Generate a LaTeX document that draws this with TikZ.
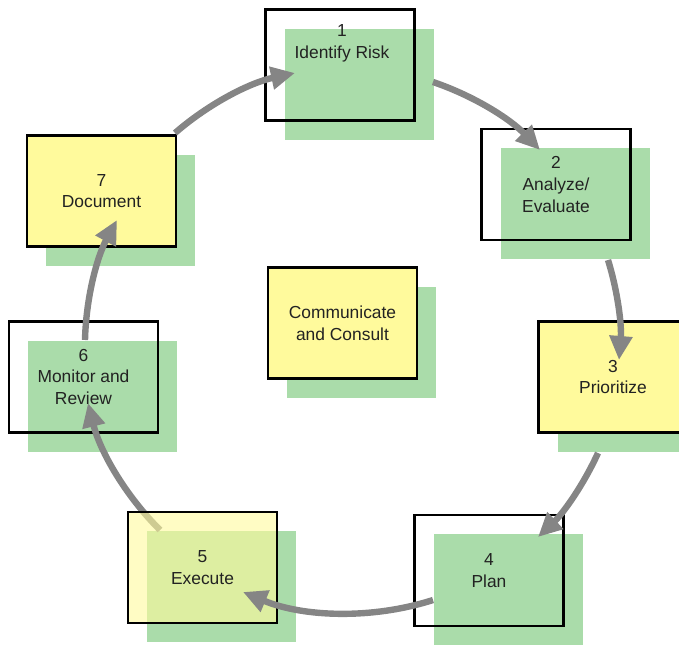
\documentclass[tikz,border=0pt]{standalone}
\usepackage{fontspec}
\setmainfont{Liberation Sans}
\usetikzlibrary{arrows.meta}
\definecolor{shgreen}{HTML}{AADCAA}
\definecolor{boxyellow}{HTML}{FFFA9C}
\definecolor{arrgray}{HTML}{858585}
\definecolor{txtcol}{HTML}{222222}
\tikzset{
  shadowbox/.style={fill=shgreen, draw=none, minimum width=74.5pt, minimum height=55.5pt, inner sep=0pt, xshift=9.5pt, yshift=-9.5pt},
  labeltext/.style={align=center, font=\fontsize{8.7}{10.8}\selectfont, text=txtcol, inner sep=0pt},
  framebox/.style={labeltext, draw=black, line width=1.1pt, minimum width=74.5pt, minimum height=55.5pt},
  yellowbox/.style={framebox, fill=boxyellow},
  flow/.style={draw=arrgray, line width=3.2pt, -{Triangle[length=12pt,width=11pt]}, looseness=0.87},
}
\begin{document}
\begin{tikzpicture}[x=0.5pt,y=0.5pt]
\useasboundingbox (0,0) rectangle (679,645);
\clip (0,0) rectangle (679,645);
% box centres
\coordinate (p1) at (340,580);
\coordinate (p2) at (556,460.5);
\coordinate (p3) at (613,268);
\coordinate (p4) at (489,74.5);
\coordinate (p5) at (202.5,77.5);
\coordinate (p6) at (83.5,268);
\coordinate (p7) at (101.5,454);
\coordinate (pc) at (342.5,322);
% shadows
\node[shadowbox] (s1) at (p1) {};
\node[shadowbox] (s2) at (p2) {};
\node[shadowbox] (s3) at (p3) {};
\node[shadowbox] (s4) at (p4) {};
\node[shadowbox] (s5) at (p5) {};
\node[shadowbox] (s6) at (p6) {};
\node[shadowbox] (s7) at (p7) {};
\node[shadowbox] (sc) at (pc) {};
% boxes
\node[framebox] (b1) at (p1) {};
\node[labeltext] (t1) at (342,601.5) {1\\Identify Risk};
\node[framebox] (b2) at (p2) {2\\Analyze/\\Evaluate};
\node[yellowbox] (b3) at (p3) {3\\Prioritize};
\node[framebox] (b4) at (p4) {4\\Plan};
\node[framebox] (b6) at (p6) {6\\Monitor and\\Review};
\node[yellowbox] (b7) at (p7) {7\\Document};
\node[yellowbox] (bc) at (pc) {Communicate\\and Consult};
% connector endpoints
\coordinate (a71s) at (175,512);
\coordinate (a71e) at (295,572);
\coordinate (a12s) at (433,563);
\coordinate (a12e) at (540,495);
\coordinate (a23s) at (608,385);
\coordinate (a23e) at (619,285);
\coordinate (a34s) at (598,192);
\coordinate (a34e) at (538,108);
\coordinate (a45s) at (433,45);
\coordinate (a45e) at (243,53);
\coordinate (a56s) at (160,115);
\coordinate (a56e) at (88,242);
\coordinate (a67s) at (85,305);
\coordinate (a67e) at (117,425);
% connector under box 5
\draw[flow] (a56s) to[bend left=15.5] (a56e);
\node[framebox, fill=boxyellow, fill opacity=0.6, text opacity=1] (b5) at (p5) {5\\Execute};
% other connectors
\draw[flow] (a71s) to[bend left=14.4] (a71e);
\draw[flow] (a12s) to[bend left=13.7] (a12e);
\draw[flow] (a23s) to[bend left=10.9] (a23e);
\draw[flow] (a34s) to[bend left=11] (a34e);
\draw[flow] (a45s) to[bend left=20.2] (a45e);
\draw[flow] (a67s) to[bend left=13.5] (a67e);
\end{tikzpicture}
\end{document}
